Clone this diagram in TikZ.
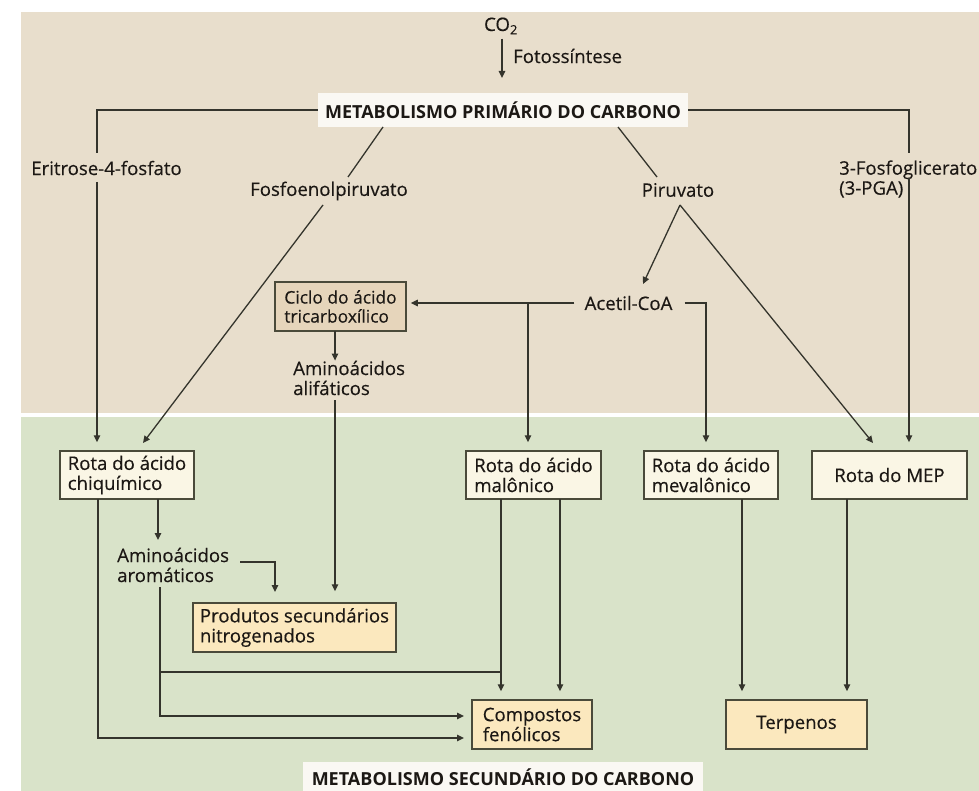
\documentclass[tikz,border=0pt]{standalone}
\usepackage{fontspec}
\setmainfont{Open Sans}
\newfontfamily\medfont{Open Sans}[FakeBold=0.35]
\usetikzlibrary{arrows.meta}
\definecolor{bgtop}{HTML}{E8DECC}
\definecolor{bgbot}{HTML}{D9E3C9}
\definecolor{ink}{HTML}{1C1814}
\definecolor{linec}{HTML}{34342C}
\definecolor{boxline}{HTML}{4A4A3A}
\definecolor{cycfill}{HTML}{E6D5BB}
\definecolor{rotafill}{HTML}{FAF6E5}
\definecolor{prodfill}{HTML}{FBE8BE}
\definecolor{labfill}{HTML}{FAF8F3}
\begin{document}
\begin{tikzpicture}[x=1pt,y=-1pt,
  conn/.style={draw=linec, line width=1.3pt},
  arr/.style={conn, -{Triangle[length=7pt,width=6.5pt]}},
  txt/.style={text=ink, font=\medfont\fontsize{18.6}{20}\selectfont, inner sep=0pt, align=left},
  mainlab/.style={fill=labfill, text=ink, font=\fontsize{18}{20}\selectfont\bfseries, inner sep=0pt},
  boxbase/.style={draw=boxline, line width=1.5pt, text=ink, font=\medfont\fontsize{18.6}{20}\selectfont, inner xsep=4pt, inner ysep=0pt, align=left},
  rotabox/.style={boxbase, fill=rotafill, minimum height=48pt},
  prodbox/.style={boxbase, fill=prodfill, minimum height=49pt},
  cicbox/.style={boxbase, fill=cycfill, minimum height=49pt, inner xsep=3pt, font=\medfont\fontsize{17.4}{19}\selectfont}
]
\useasboundingbox (0,0) rectangle (979,791);
\fill[white] (0,0) rectangle (979,791);
\fill[bgtop] (21,12) rectangle (979,413);
\fill[bgbot] (21,417) rectangle (979,791);

% ---------- nodes ----------
\node[txt] (co2) at (501,26) {CO\textsubscript{2}};
\node[txt, anchor=west] (foto) at (513,56) {Fotossíntese};
\node[mainlab, minimum width=370pt, minimum height=34pt] (prim) at (503,110) {METABOLISMO PRIMÁRIO DO CARBONO};

\node[txt] (eri) at (106.5,168) {Eritrose-4-fosfato};
\node[txt] (fos) at (329,191) {Fosfoenolpiruvato};
\node[txt] (pir) at (678,190) {Piruvato};
\node[txt, anchor=west] (pga) at (839,179) {3-Fosfoglicerato\\(3-PGA)};

\node[cicbox, minimum width=131pt] (ciclo) at (340.5,306.5) {Ciclo do ácido\\tricarboxílico};
\node[txt] (acetil) at (628.5,303) {Acetil-CoA};
\node[txt, anchor=west] (ali) at (293,378) {Aminoácidos\\alifáticos};

\node[rotabox, minimum width=134pt] (chiq) at (127,475) {Rota do ácido\\chiquímico};
\node[rotabox, minimum width=135pt] (malon) at (533.5,475) {Rota do ácido\\malônico};
\node[rotabox, minimum width=134pt] (meval) at (711,475) {Rota do ácido\\mevalônico};
\node[rotabox, minimum width=155pt, align=center] (mep) at (889.5,475) {Rota do MEP};

\node[txt, anchor=west] (aro) at (117,565) {Aminoácidos\\aromáticos};
\node[prodbox, minimum width=203pt] (prod) at (294.5,627.5) {Produtos secundários\\nitrogenados};
\node[prodbox, minimum width=120pt] (comp) at (532,724.5) {Compostos\\fenólicos};
\node[prodbox, minimum width=141pt, align=center] (terp) at (796.5,724.5) {Terpenos};

\node[mainlab, minimum width=400pt, minimum height=30pt, anchor=north] (sec) at (503,762) {METABOLISMO SECUNDÁRIO DO CARBONO};

% ---------- coordinates ----------
\coordinate (co2end) at (502,78);
\coordinate (eriTop) at (97,153);
\coordinate (eriBot) at (97,182);
\coordinate (pgaTop) at (909,153);
\coordinate (pgaBot) at (909,178);
\coordinate (fosA) at (383,127);
\coordinate (fosB) at (348,177);
\coordinate (fosC) at (323,205);
\coordinate (chiqIn2) at (143,443);
\coordinate (piA) at (618,127);
\coordinate (piB) at (657,177);
\coordinate (piC) at (680,205);
\coordinate (mepIn1) at (873,443);
\coordinate (acIn) at (643,284);
\coordinate (acJ) at (528,303);
\coordinate (acR) at (706,303);
\coordinate (cicOut) at (335,331);
\coordinate (aliOut) at (335,400);
\coordinate (chiqOut) at (158,499);
\coordinate (aroIn) at (158,540);
\coordinate (aroR) at (240,562);
\coordinate (prodIn) at (275,603);
\coordinate (aroB) at (160,587);
\coordinate (compIn1) at (472,716);
\coordinate (compIn2) at (472,738);
\coordinate (chiqO) at (98,499);
\coordinate (malJ) at (501,672);
\coordinate (malO1) at (501,499);
\coordinate (malO2) at (560,499);
\coordinate (mevO) at (742,499);
\coordinate (mepO) at (847,499);

% ---------- connectors ----------
\draw[arr] ([yshift=-4pt]co2.south -| co2end) -- (co2end);
\draw[conn] (prim.west) -| (eriTop);
\draw[arr, shorten >=8pt] (eriBot) -- (eriBot |- chiq.north);
\draw[conn] (prim.east) -| (pgaTop);
\draw[arr, shorten >=8pt] (pgaBot) -- (pgaBot |- mep.north);
\draw[conn] (fosA) -- (fosB);
\draw[arr] (fosC) -- (chiqIn2);
\draw[conn] (piA) -- (piB);
\draw[arr] (piC) -- (mepIn1);
\draw[arr] (piC) -- (acIn);
\draw[arr, shorten <=10pt, shorten >=4pt] (acetil.west) -- (ciclo.east |- acetil.west);
\draw[arr, shorten >=8pt] (acJ) -- (acJ |- malon.north);
\draw[arr, shorten >=8pt] ([xshift=12pt]acetil.east) -- (acR) -- (acR |- meval.north);
\draw[arr] (cicOut) -- (cicOut |- ali.north);
\draw[arr, shorten >=11pt] (aliOut) -- (aliOut |- prod.north);
\draw[arr] (chiqOut) -- (aroIn);
\draw[arr, shorten >=11pt] (aroR) -| (prodIn);
\draw[arr, shorten >=8pt] (aroB) |- (compIn1);
\draw[conn] (aroB |- malJ) -- (malJ);
\draw[arr, shorten >=8pt] (malO1) -- (malO1 |- comp.north);
\draw[arr, shorten >=8pt] (malO2) -- (malO2 |- comp.north);
\draw[arr, shorten >=8pt] (chiqO) |- (compIn2);
\draw[arr, shorten >=8pt] (mevO) -- (mevO |- terp.north);
\draw[arr, shorten >=8pt] (mepO) -- (mepO |- terp.north);
\end{tikzpicture}
\end{document}
